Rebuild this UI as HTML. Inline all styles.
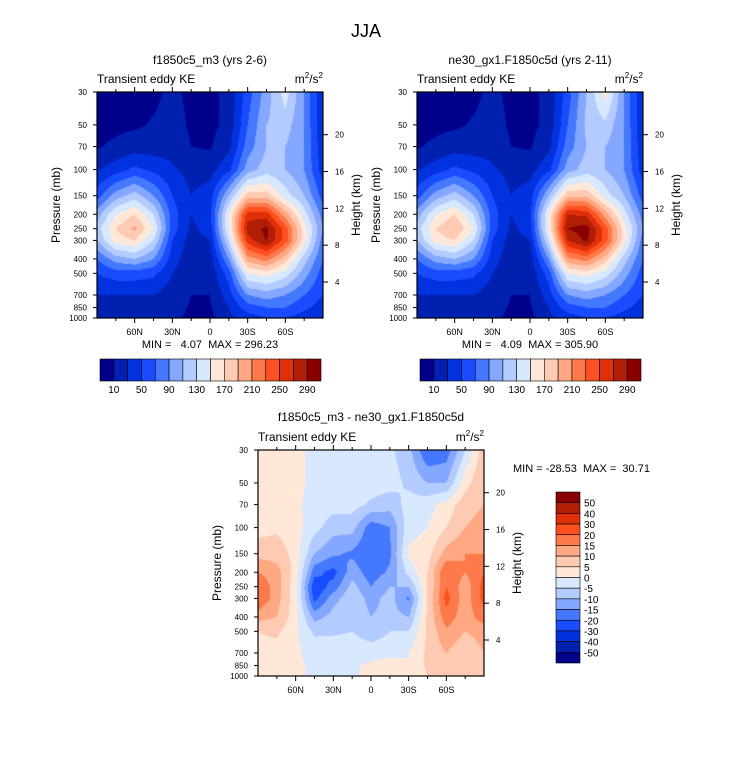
<!DOCTYPE html>
<html><head><meta charset="utf-8"><style>
body{margin:0;background:#fff;font-family:"Liberation Sans",sans-serif;}
#root{position:relative;width:733px;height:772px;overflow:hidden;}
</style></head><body><div id="root">
<svg id="svg" width="733" height="772" style="position:absolute;left:0;top:0"></svg>
</div>
<script>
const lats=[90,75,60,45,30,15,0,-15,-30,-45,-60,-75,-90];
const levs=[30,50,70,100,150,200,250,300,400,500,700,850,1000];
const keLevels=[10,30,50,70,90,110,130,150,170,190,210,230,250,270,290];
const keLabels=["10","50","90","130","170","210","250","290"];
const diffLevels=[-50,-40,-30,-20,-15,-10,-5,0,5,10,15,20,30,40,50];
const diffLabels=["50","40","30","20","15","10","5","0","-5","-10","-15","-20","-30","-40","-50"];
const palette=["#00008a","#0020b0","#0032e0","#1a4cff","#4479ff","#84a7ff","#b3cbff","#d8e8ff","#ffe8d8","#ffcab2","#ffa882","#ff7a4a","#ff5020","#e0300a","#b01e05","#8a0000"];
const ke1=[
[5,5,5,5,15,5,5,15,60,100,140,90,30],
[5,5,7,12,18,7,5,15,70,110,120,90,30],
[8,14,20,20,22,10,8,25,80,110,110,90,35],
[28,40,55,45,33,22,22,45,100,120,110,90,40],
[60,100,120,90,50,30,40,110,180,180,140,110,60],
[100,150,170,130,60,30,45,150,260,260,200,140,80],
[120,170,195,150,60,25,40,150,280,295,240,160,90],
[110,160,170,130,50,20,30,130,260,292,240,160,80],
[70,100,110,90,40,15,20,90,200,220,180,120,70],
[50,60,60,55,30,12,15,60,150,160,140,100,60],
[30,30,30,30,20,10,10,40,90,100,90,70,50],
[25,20,25,25,18,8,8,30,60,70,70,55,40],
[20,15,20,20,15,5,5,25,40,50,50,40,30]];
const ke2=[
[5,5,5,5,15,5,5,15,60,110,160,90,30],
[5,5,7,12,18,7,5,15,70,115,125,90,30],
[8,14,20,20,22,10,8,25,80,110,110,90,35],
[28,40,55,45,33,22,22,45,100,120,110,90,40],
[60,100,120,90,50,30,40,110,185,185,140,110,60],
[100,150,170,130,60,30,45,155,270,265,200,140,80],
[120,170,190,150,60,25,40,155,290,300,240,160,90],
[110,160,170,130,50,20,30,135,270,295,240,160,80],
[70,100,110,90,40,15,20,90,205,220,180,120,70],
[50,60,60,55,30,12,15,60,150,160,140,100,60],
[30,30,30,30,20,10,10,40,90,100,90,70,50],
[25,20,25,25,18,8,8,30,60,70,70,55,40],
[20,15,20,20,15,5,5,25,40,50,50,40,30]];
const diff=[
[0,2,2,-2,-2,-2,-2,-4,-8,-20,-18,-5,8],
[0,2,2,-2,-2,-2,-2,-3,-6,-10,-10,3,10],
[0,2,1,-2,-3,-3,-6,-8,-3,-2,2,8,10],
[3,4,2,-3,-8,-8,-18,-15,-2,0,5,10,12],
[8,8,3,-10,-14,-16,-20,-16,1,3,12,15,15],
[15,12,3,-18,-22,-12,-18,-14,-3,5,20,15,20],
[20,12,2,-24,-18,-8,-15,-10,-10,5,20,12,22],
[20,12,2,-22,-12,-6,-12,-8,-16,5,22,12,22],
[12,10,2,-12,-8,-6,-10,-8,-10,6,18,12,18],
[5,6,1,-6,-6,-5,-8,-5,-5,6,14,10,12],
[3,3,1,-2,-1,-2,-2,-2,0,6,10,6,10],
[2,2,1,-1,-1,-1,1,3,0,6,8,5,10],
[2,2,1,-1,-1,-1,2,4,0,5,8,5,10]];
const xTickLabels=["60N","30N","0","30S","60S"];
const xTickLats=[60,30,0,-30,-60];
const pTicks=[30,50,70,100,150,200,250,300,400,500,700,850,1000];
const hTicks=[4,8,12,16,20];

const NS="http://www.w3.org/2000/svg";
const svg=document.getElementById('svg');
function el(tag,attrs,parent){const e=document.createElementNS(NS,tag);for(const k in attrs)e.setAttribute(k,attrs[k]);(parent||svg).appendChild(e);return e;}
function txt(s,x,y,size,anchor,parent,rot){const t=el('text',{x:x,y:y,'font-size':size,'text-anchor':anchor||'middle','fill':'#000','font-family':'Liberation Sans, sans-serif'},parent);if(rot)t.setAttribute('transform','rotate(-90 '+x+' '+y+')');t.textContent=s;return t;}
function colorIdx(v,lv){let i=0;while(i<lv.length&&v>=lv[i])i++;return i;}
function interp(grid,fx,fy){const x0=Math.min(Math.floor(fx),11),y0=Math.min(Math.floor(fy),11);const tx=fx-x0,ty=fy-y0;
return grid[y0][x0]*(1-tx)*(1-ty)+grid[y0][x0+1]*tx*(1-ty)+grid[y0+1][x0]*(1-tx)*ty+grid[y0+1][x0+1]*tx*ty;}

function panel(name,x0,y0,grid,lv){
 const W=226,H=226;
 const g=el('g',{},svg);
 const xS=lat=>x0+(90-lat)/180*W;
 const yS=p=>y0+Math.log10(p/30)/Math.log10(1000/30)*H;
 const logs=levs.map(p=>Math.log10(p));
 const fo=el('foreignObject',{x:x0,y:y0,width:W,height:H},g);
 const cv=document.createElement('canvas');cv.width=W;cv.height=H;fo.appendChild(cv);
 
 const ctx=cv.getContext('2d');
 const rgb=palette.map(c=>[parseInt(c.slice(1,3),16),parseInt(c.slice(3,5),16),parseInt(c.slice(5,7),16)]);
 const img=ctx.createImageData(W,H);
 for(let j=0;j<H;j++){
  const lp=Math.log10(30)+(j+0.5)/H*Math.log10(1000/30);
  let k=0;while(k<11&&lp>logs[k+1])k++;
  const fy=k+(lp-logs[k])/(logs[k+1]-logs[k]);
  for(let i=0;i<W;i++){
   const fx=(i+0.5)/W*12;
   const v=interp(grid,fx,Math.max(0,Math.min(12,fy)));
   const c=rgb[colorIdx(v,lv)];const o=(j*W+i)*4;
   img.data[o]=c[0];img.data[o+1]=c[1];img.data[o+2]=c[2];img.data[o+3]=255;}
 }
 ctx.putImageData(img,0,0);
 el('rect',{x:x0,y:y0,width:W,height:H,fill:'none',stroke:'#000','stroke-width':1.2},g);
 for(let lat=-75;lat<=75;lat+=15){const x=xS(lat);const maj=lat%30===0;
  el('line',{x1:x,y1:y0+H,x2:x,y2:y0+H+(maj?5:3),stroke:'#000'},g);
  el('line',{x1:x,y1:y0,x2:x,y2:y0-(maj?5:3),stroke:'#000'},g);}
 xTickLats.forEach((lat,i)=>{const t=txt(xTickLabels[i],xS(lat),y0+H+17,9,'middle',g);});
 pTicks.forEach(p=>{const y=yS(p);el('line',{x1:x0,y1:y,x2:x0-4,y2:y,stroke:'#000'},g);
  const t=txt(String(p),x0-10,y+3,8,'end',g);});
 hTicks.forEach(z=>{const p=1013*Math.exp(-z/7);const y=yS(p);el('line',{x1:x0+W,y1:y,x2:x0+W+5,y2:y,stroke:'#000'},g);
  const t=txt(String(z),x0+W+12,y+3,8,'start',g);});
 const yl=txt('Pressure (mb)',x0-37,y0+H/2,12,'middle',g,true);
 const yr=txt('Height (km)',x0+W+37,y0+H/2,12,'middle',g,true);
 const st=txt('Transient eddy KE',x0,y0-9,12,'start',g);
 const un=el('text',{x:x0+W,y:y0-9,'font-size':12,'text-anchor':'end','font-family':'Liberation Sans, sans-serif'},g);
 
 un.innerHTML='m<tspan dy="-5" font-size="8">2</tspan><tspan dy="5">/s</tspan><tspan dy="-5" font-size="8">2</tspan>';
}
function hbar(name,x0,y0){const g=el('g',{},svg);
 const w=221/16;palette.forEach((c,i)=>{const r=el('rect',{x:x0+i*w,y:y0,width:w,height:22,fill:c,stroke:'#000','stroke-width':0.6},g);});
 keLabels.forEach((s,i)=>{const t=txt(s,x0+(1+2*i)*w,y0+34,10,'middle',g);});}
function vbar(name,x0,y0){const g=el('g',{},svg);
 const h=171/16;palette.slice().reverse().forEach((c,i)=>{const r=el('rect',{x:x0,y:y0+i*h,width:24,height:h,fill:c,stroke:'#000','stroke-width':0.6},g);});
 diffLabels.forEach((s,i)=>{const t=txt(s,x0+28,y0+(i+1)*h+4,10,'start',g);});}

const tt=txt('JJA',366,37,18);
const t1=txt('f1850c5_m3 (yrs 2-6)',210,64,12);
const t2=txt('ne30_gx1.F1850c5d (yrs 2-11)',530,64,12);
const t3=txt('f1850c5_m3 - ne30_gx1.F1850c5d',371,421,12);
panel('panel-model1',97,92,ke1,keLevels);
panel('panel-model2',417,92,ke2,keLevels);
panel('panel-difference',258,450,diff,diffLevels);
const m1=txt('MIN =   4.07  MAX = 296.23',210,348,11);m1.style.whiteSpace='pre';
const m2=txt('MIN =   4.09  MAX = 305.90',530,348,11);m2.style.whiteSpace='pre';
const m3=txt('MIN = -28.53  MAX =  30.71',513,472,11,'start');m3.style.whiteSpace='pre';
hbar('colorbar-panel1',100,359);
hbar('colorbar-panel2',420,359);
vbar('colorbar-difference',556,492);
</script></body></html>
